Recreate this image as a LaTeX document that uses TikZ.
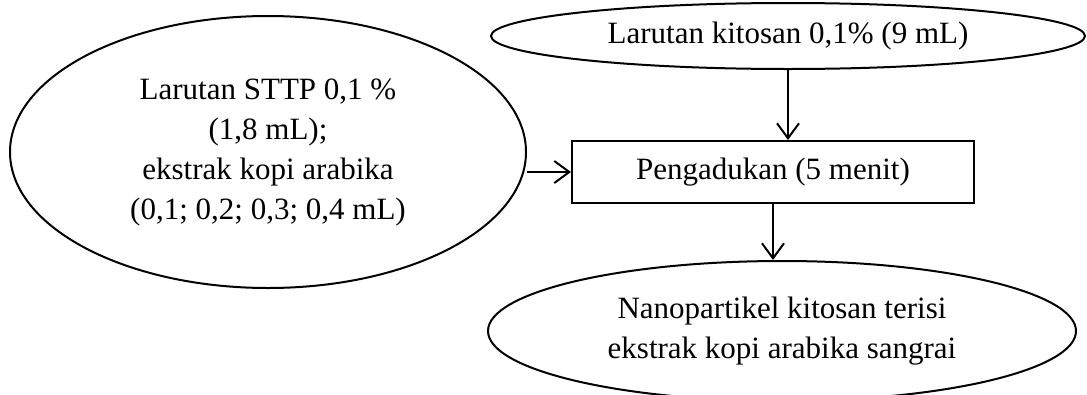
\documentclass[tikz,border=0pt]{standalone}
\usepackage{fontspec}
\setmainfont{Liberation Serif}
\usetikzlibrary{shapes.geometric,arrows.meta}
\tikzset{
  oval/.style={draw, line width=2pt, ellipse, inner sep=0pt, align=center, font=\fontsize{31}{40}\selectfont},
  procbox/.style={draw, line width=2pt, rectangle, inner sep=0pt, align=center, font=\fontsize{31}{40}\selectfont},
  flow/.style={line width=2pt, -{Straight Barb[length=15pt,width=22pt,line width=2pt]}}
}
\begin{document}
\begin{tikzpicture}[x=1pt,y=-1pt]
\useasboundingbox (0,0) rectangle (1087,394);
\node[oval, minimum width=516pt, minimum height=272pt] (stpp) at (268,152) {Larutan STTP 0,1 \%\\(1,8 mL);\\ekstrak kopi arabika\\(0,1; 0,2; 0,3; 0,4 mL)};
\node[oval, minimum width=594pt, minimum height=66pt] (kit) at (788,36) {Larutan kitosan 0,1\% (9 mL)};
\node[procbox, minimum width=402pt, minimum height=62pt] (aduk) at (773,172) {Pengadukan (5 menit)};
\node[oval, minimum width=588pt, minimum height=140pt] (nano) at (782,331) {Nanopartikel kitosan terisi\\ekstrak kopi arabika sangrai};
\draw[flow] (stpp.east |- aduk.west) -- (aduk.west);
\draw[flow] (kit.south) -- (kit.south |- aduk.north);
\draw[flow] (aduk.south) -- (aduk.south |- nano.north);
\end{tikzpicture}
\end{document}
